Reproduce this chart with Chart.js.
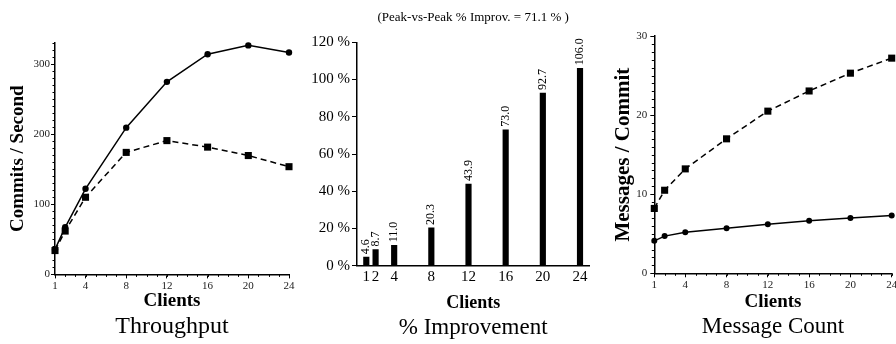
<!DOCTYPE html>
<html>
<head>
<meta charset="utf-8">
<script src="https://cdn.jsdelivr.net/npm/chart.js@4.4.1/dist/chart.umd.min.js"></script>
<style>
  html, body { margin: 0; padding: 0; background: #fff; overflow: hidden; }
  #wrap { position: relative; width: 896px; height: 344px; overflow: hidden; }
  canvas { position: absolute; top: 0; }
</style>
</head>
<body>
<div id="wrap">
  <canvas id="throughput" width="300" height="344" style="left:0px"></canvas>
  <canvas id="improvement" width="300" height="344" style="left:300px"></canvas>
  <canvas id="messages" width="310" height="344" style="left:600px"></canvas>
</div>
<script>
// number of clients on every x axis
const clients = [1, 2, 4, 8, 12, 16, 20, 24];
const clientTicks = [1, 4, 8, 12, 16, 20, 24];

// commits per second
const commitsNew = [35.6, 67.2, 122.1, 209.3, 274.6, 314.0, 326.6, 316.4];
const commitsOld = [34.0, 61.8, 110.0, 174.0, 190.8, 181.5, 169.5, 153.6];

// throughput gain in percent
const improvement = [4.6, 8.7, 11.0, 20.3, 43.9, 73.0, 92.7, 106.0];
const peakNote = '(Peak-vs-Peak % Improv. = 71.1 % )';

// messages per commit
const messagesOld = [8.2, 10.5, 13.2, 17.0, 20.5, 23.05, 25.3, 27.2];
const messagesNew = [4.1, 4.7, 5.2, 5.7, 6.2, 6.65, 7.0, 7.3];

const SERIF = "'Liberation Serif', 'Times New Roman', serif";
Chart.defaults.font.family = SERIF;
Chart.defaults.color = '#000';
Chart.defaults.animation = false;

const pts = (ys) => clients.map((c, i) => ({ x: c, y: ys[i] }));

// small unlabeled ticks between the major ones
const minorTicks = {
  id: 'minorTicks',
  afterDraw(chart, args, opts) {
    const { ctx } = chart;
    const xs = chart.scales.x, ys = chart.scales.y;
    ctx.save();
    ctx.strokeStyle = '#000';
    ctx.lineWidth = 1;
    if (opts.xStep) {
      for (let v = xs.min; v <= xs.max + 1e-9; v += opts.xStep) {
        const p = Math.round(xs.getPixelForValue(v)) + 0.5;
        ctx.beginPath();
        ctx.moveTo(p, xs.top);
        ctx.lineTo(p, xs.top + opts.len);
        ctx.stroke();
      }
    }
    if (opts.yStep) {
      for (let v = ys.min; v <= ys.max + 1e-9; v += opts.yStep) {
        const p = Math.round(ys.getPixelForValue(v)) + 0.5;
        ctx.beginPath();
        ctx.moveTo(ys.right, p);
        ctx.lineTo(ys.right - opts.len, p);
        ctx.stroke();
      }
    }
    ctx.restore();
  }
};

// rotated value over each bar
const barValues = {
  id: 'barValues',
  afterDatasetsDraw(chart) {
    const { ctx } = chart;
    const meta = chart.getDatasetMeta(0);
    ctx.save();
    ctx.font = '12px ' + SERIF;
    ctx.fillStyle = '#000';
    ctx.textAlign = 'left';
    ctx.textBaseline = 'middle';
    meta.data.forEach((bar, i) => {
      ctx.save();
      ctx.translate(bar.x, bar.y - 3);
      ctx.rotate(-Math.PI / 2);
      ctx.fillText(improvement[i].toFixed(1), 0, 0);
      ctx.restore();
    });
    ctx.restore();
  }
};

function lineSet(data, dashed, style, radius) {
  return {
    data: pts(data),
    borderColor: '#000',
    backgroundColor: '#000',
    borderWidth: 1.5,
    borderDash: dashed ? [6, 4] : [],
    pointStyle: style,
    pointRadius: radius,
    pointBackgroundColor: '#000',
    pointBorderColor: '#000',
    pointBorderWidth: 0,
    tension: 0,
    clip: false
  };
}

function lineOptions(cfg) {
  return {
    responsive: false,
    layout: { padding: cfg.padding },
    plugins: {
      legend: { display: false },
      tooltip: { enabled: false },
      title: {
        display: true, text: cfg.caption, position: 'bottom', fullSize: false,
        font: { size: cfg.captionSize, weight: 'normal' }, padding: { top: 0, bottom: 0 }
      },
      minorTicks: { xStep: 1, yStep: cfg.yMinor, len: 2.5 }
    },
    scales: {
      x: {
        type: 'linear', min: 1, max: 24,
        afterBuildTicks: s => { s.ticks = clientTicks.map(v => ({ value: v })); },
        afterFit: s => { s.height = cfg.xHeight; },
        grid: { drawOnChartArea: false, tickLength: 4, color: '#000' },
        border: { display: true, color: '#000', width: 1.5 },
        ticks: { font: { size: 11 }, color: '#222', padding: 1, maxRotation: 0 },
        title: { display: true, text: 'Clients', font: { size: 19, weight: 'bold' }, padding: 0 }
      },
      y: {
        min: 0, max: cfg.yMax,
        afterBuildTicks: s => { s.ticks = cfg.yTicks.map(v => ({ value: v })); },
        afterFit: s => { s.width = cfg.yWidth; },
        grid: { drawOnChartArea: false, tickLength: 4, color: '#000' },
        border: { display: true, color: '#000', width: 1.5 },
        ticks: { font: { size: 11 }, color: '#222', padding: cfg.yPad },
        title: {
          display: true, text: cfg.yTitle,
          font: { size: cfg.yTitleSize, weight: 'bold' },
          padding: { top: cfg.yTitlePad, bottom: 0 }
        }
      }
    }
  };
}

new Chart(document.getElementById('throughput'), {
  type: 'line',
  data: {
    datasets: [
      lineSet(commitsOld, true, 'rect', 5),
      lineSet(commitsNew, false, 'circle', 3.2)
    ]
  },
  options: lineOptions({
    caption: 'Throughput', captionSize: 24,
    padding: { left: 0, right: 11, top: 43, bottom: 3.2 },
    xHeight: 37.6, yWidth: 55, yMax: 330, yMinor: 10, yPad: 1,
    yTicks: [0, 100, 200, 300],
    yTitle: 'Commits / Second', yTitleSize: 19, yTitlePad: 7
  }),
  plugins: [minorTicks]
});

new Chart(document.getElementById('improvement'), {
  type: 'bar',
  data: {
    datasets: [{
      data: pts(improvement),
      backgroundColor: '#000',
      borderWidth: 0,
      barThickness: 5.5
    }]
  },
  options: {
    responsive: false,
    layout: { padding: { left: 0, right: 10.7, top: 0, bottom: 2.2 } },
    plugins: {
      legend: { display: false },
      tooltip: { enabled: false },
      subtitle: {
        display: true, text: peakNote, position: 'top', fullSize: false,
        font: { size: 13 }, color: '#000', padding: { top: 9.4, bottom: 17.3 }
      },
      title: {
        display: true, text: '% Improvement', position: 'bottom', fullSize: false,
        font: { size: 23, weight: 'normal' }, padding: { top: 0, bottom: 0 }
      }
    },
    scales: {
      x: {
        type: 'linear', min: 0, max: 25, offset: false,
        afterBuildTicks: s => { s.ticks = clients.map(v => ({ value: v })); },
        afterFit: s => { s.height = 48.5; },
        grid: { drawOnChartArea: false, drawTicks: false },
        border: { display: true, color: '#000', width: 1.5 },
        ticks: { font: { size: 15 }, padding: 2, maxRotation: 0 },
        title: { display: true, text: 'Clients', font: { size: 18, weight: 'bold' }, padding: 0 }
      },
      y: {
        min: 0, max: 120,
        ticks: { stepSize: 20, font: { size: 15 }, padding: 2, callback: v => v + ' %' },
        afterFit: s => { s.width = 57; },
        grid: { drawOnChartArea: false, tickLength: 5, color: '#000' },
        border: { display: true, color: '#000', width: 1.5 }
      }
    }
  },
  plugins: [barValues]
});

new Chart(document.getElementById('messages'), {
  type: 'line',
  data: {
    datasets: [
      lineSet(messagesOld, true, 'rect', 5),
      lineSet(messagesNew, false, 'circle', 3)
    ]
  },
  options: lineOptions({
    caption: 'Message Count', captionSize: 23,
    padding: { left: 0, right: 18.3, top: 36, bottom: 3.2 },
    xHeight: 39.9, yWidth: 54.3, yMax: 30, yMinor: 1, yPad: 3,
    yTicks: [0, 10, 20, 30],
    yTitle: 'Messages / Commit', yTitleSize: 21, yTitlePad: 10.7
  }),
  plugins: [minorTicks]
});
</script>
</body>
</html>
